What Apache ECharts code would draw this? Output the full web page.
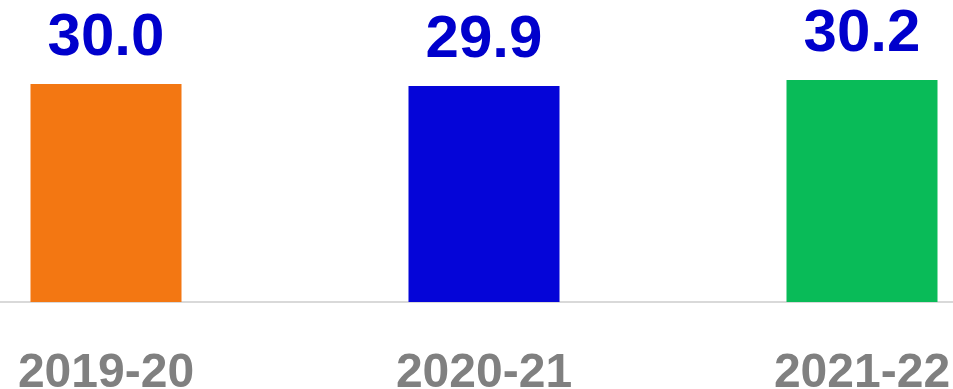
<!DOCTYPE html>
<html>
<head>
<meta charset="utf-8">
<script src="https://cdn.jsdelivr.net/npm/echarts@6/dist/echarts.min.js"></script>
<style>
  html, body { margin: 0; padding: 0; background: #ffffff; overflow: hidden; width: 953px; height: 389px; }
  #chart { position: absolute; left: -83.5px; top: 0; width: 1134px; height: 389px; }
</style>
</head>
<body>
<div id="chart"></div>
<script>
// Academic years shown on the category axis
const years = ['2019-20', '2020-21', '2021-22'];
// Value per year
const values = [30.0, 29.9, 30.2];
// Fill colour for each year's bar
const barColors = ['#F37712', '#0505D8', '#09BB58'];

const chart = echarts.init(document.getElementById('chart'), null, { renderer: 'canvas' });

chart.setOption({
  animation: false,
  backgroundColor: '#ffffff',
  grid: { left: 0, right: 0, top: 0, bottom: 87, outerBoundsMode: 'none', containLabel: false },
  xAxis: {
    type: 'category',
    data: years,
    boundaryGap: true,
    axisTick: { show: false },
    axisLine: { show: true, lineStyle: { color: '#D9D9D9', width: 2 } },
    axisLabel: {
      margin: 48,
      fontFamily: 'Liberation Sans',
      fontWeight: 'bold',
      fontSize: 48,
      color: '#808080'
    }
  },
  yAxis: {
    type: 'value',
    min: 19.1,
    max: 34.2,
    show: false,
    splitLine: { show: false }
  },
  series: [{
    type: 'bar',
    barWidth: 151,
    data: values.map((v, i) => ({ value: v, itemStyle: { color: barColors[i] } })),
    label: {
      show: true,
      position: 'top',
      distance: 16,
      formatter: p => p.value.toFixed(1),
      fontFamily: 'Liberation Sans',
      fontWeight: 'bold',
      fontSize: 60,
      lineHeight: 60,
      color: '#0000CC'
    }
  }]
});
</script>
</body>
</html>
